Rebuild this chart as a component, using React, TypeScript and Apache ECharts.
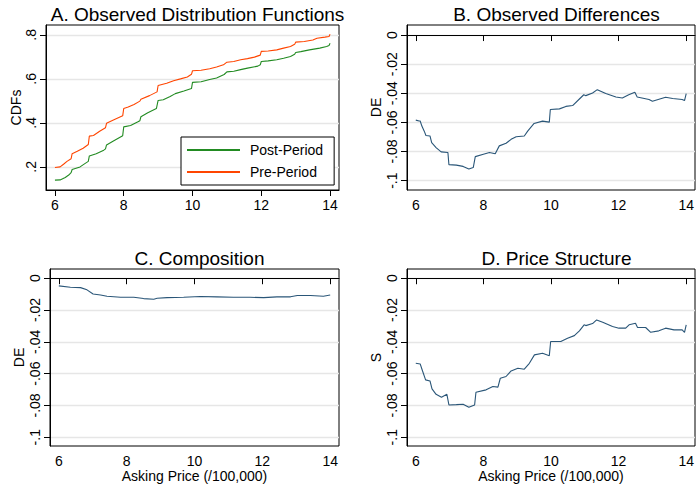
import { useEffect, useRef } from "react";
import * as echarts from "echarts";

// tick values
const priceTicks = [6, 8, 10, 12, 14];
const cdfTicks = [0.2, 0.4, 0.6, 0.8];
const diffTicks = [0, -0.02, -0.04, -0.06, -0.08, -0.1];

const titles = [
  "A. Observed Distribution Functions",
  "B. Observed Differences",
  "C. Composition",
  "D. Price Structure",
];

// A: CDFs (asking price /100,000, share)
const postPeriod = [
  [6.0, 0.14], [6.15, 0.141], [6.3, 0.152], [6.4, 0.163], [6.47, 0.174], [6.5, 0.188],
  [6.73, 0.2], [6.87, 0.215], [6.97, 0.225], [7.0, 0.25], [7.2, 0.26], [7.42, 0.276],
  [7.47, 0.282], [7.5, 0.3], [7.7, 0.318], [7.97, 0.342], [8.0, 0.382], [8.2, 0.388],
  [8.4, 0.404], [8.47, 0.41], [8.5, 0.428], [8.7, 0.446], [8.95, 0.465], [9.0, 0.502],
  [9.15, 0.505], [9.35, 0.52], [9.5, 0.533], [9.75, 0.545], [9.97, 0.556], [10.0, 0.584],
  [10.25, 0.587], [10.5, 0.597], [10.7, 0.604], [10.92, 0.62], [11.0, 0.632], [11.2, 0.635],
  [11.4, 0.642], [11.6, 0.649], [11.9, 0.658], [11.97, 0.664], [12.0, 0.679], [12.2, 0.682],
  [12.45, 0.687], [12.65, 0.694], [12.85, 0.702], [12.97, 0.712], [13.0, 0.72], [13.15, 0.724],
  [13.4, 0.732], [13.7, 0.74], [13.9, 0.747], [13.97, 0.752], [14.0, 0.762],
];

const prePeriod = [
  [6.0, 0.197], [6.15, 0.2], [6.25, 0.212], [6.35, 0.225], [6.47, 0.237], [6.5, 0.26],
  [6.65, 0.271], [6.82, 0.285], [6.97, 0.302], [7.0, 0.34], [7.12, 0.343], [7.3, 0.362],
  [7.47, 0.378], [7.5, 0.398], [7.7, 0.413], [7.97, 0.432], [8.0, 0.465], [8.13, 0.472],
  [8.3, 0.484], [8.47, 0.499], [8.5, 0.508], [8.75, 0.524], [8.97, 0.541], [9.0, 0.57],
  [9.25, 0.58], [9.45, 0.592], [9.65, 0.6], [9.85, 0.609], [9.97, 0.621], [10.0, 0.637],
  [10.25, 0.639], [10.5, 0.646], [10.7, 0.654], [10.9, 0.664], [11.0, 0.676], [11.2, 0.679],
  [11.4, 0.687], [11.6, 0.692], [11.8, 0.699], [11.97, 0.708], [12.0, 0.725], [12.2, 0.727],
  [12.45, 0.732], [12.65, 0.74], [12.85, 0.747], [12.97, 0.757], [13.0, 0.767], [13.25, 0.77],
  [13.5, 0.777], [13.62, 0.785], [13.85, 0.79], [13.97, 0.793], [14.0, 0.803],
];

// B: observed differences
const observedDiff = [
  [6.0, -0.0584], [6.1, -0.059], [6.13, -0.059], [6.18, -0.0625], [6.25, -0.066], [6.3, -0.069],
  [6.42, -0.0693], [6.47, -0.0739], [6.6, -0.0773], [6.75, -0.0802], [6.95, -0.0807], [6.98, -0.089],
  [7.2, -0.0893], [7.4, -0.0902], [7.57, -0.092], [7.7, -0.091], [7.76, -0.0835], [8.0, -0.0818],
  [8.18, -0.0807], [8.35, -0.0815], [8.47, -0.0761], [8.67, -0.0743], [8.82, -0.0716], [8.97, -0.0698],
  [9.21, -0.0693], [9.31, -0.066], [9.5, -0.0607], [9.75, -0.0591], [9.95, -0.0598], [9.98, -0.0511],
  [10.25, -0.0507], [10.44, -0.049], [10.64, -0.0484], [10.84, -0.0439], [10.97, -0.041], [11.03, -0.0416],
  [11.23, -0.0398], [11.37, -0.0375], [11.62, -0.0402], [11.92, -0.0425], [12.11, -0.0432], [12.3, -0.041],
  [12.48, -0.0393], [12.55, -0.0425], [12.9, -0.0443], [13.0, -0.0455], [13.39, -0.0427], [13.6, -0.0436],
  [13.88, -0.0443], [13.95, -0.045], [14.0, -0.0402],
];

// C: composition effect
const composition = [
  [6.0, -0.0048], [6.34, -0.0057], [6.64, -0.0059], [6.83, -0.0073], [7.01, -0.0099], [7.23, -0.0105],
  [7.42, -0.0113], [7.82, -0.012], [8.21, -0.012], [8.5, -0.0128], [8.8, -0.0132], [8.9, -0.0126],
  [9.19, -0.0122], [9.68, -0.012], [10.17, -0.0115], [10.66, -0.0117], [11.15, -0.012], [11.64, -0.012],
  [12.04, -0.0122], [12.43, -0.0117], [12.83, -0.0117], [13.03, -0.0109], [13.42, -0.0109], [13.8, -0.0113],
  [14.0, -0.0105],
];

// D: price structure effect
const priceStructure = [
  [6.0, -0.0535], [6.13, -0.0539], [6.19, -0.0577], [6.29, -0.0639], [6.42, -0.0646], [6.48, -0.0696],
  [6.6, -0.073], [6.76, -0.0748], [6.92, -0.073], [6.98, -0.0797], [7.2, -0.0795], [7.4, -0.0792],
  [7.57, -0.0811], [7.74, -0.0797], [7.78, -0.0717], [8.08, -0.0702], [8.28, -0.0681], [8.43, -0.0685],
  [8.5, -0.0629], [8.67, -0.0618], [8.82, -0.0583], [9.02, -0.0566], [9.21, -0.0572], [9.36, -0.0535],
  [9.51, -0.0482], [9.75, -0.0472], [9.95, -0.0487], [9.99, -0.0398], [10.29, -0.0398], [10.49, -0.0377],
  [10.69, -0.0361], [10.84, -0.0331], [10.98, -0.0293], [11.03, -0.0298], [11.23, -0.0285], [11.35, -0.0262],
  [11.53, -0.0277], [11.82, -0.0304], [12.01, -0.0314], [12.21, -0.0314], [12.31, -0.0293], [12.5, -0.0283],
  [12.56, -0.031], [12.8, -0.031], [12.95, -0.034], [13.19, -0.0331], [13.39, -0.0314], [13.64, -0.0325],
  [13.88, -0.0325], [13.95, -0.034], [14.0, -0.0293],
];

const FONT = '"Liberation Sans", Arial, Helvetica, sans-serif';
const NAVY = "#2a5678";

// stata style: .8, -.02, 0
const stataFmt = (v: number) => {
  const s = String(+v.toFixed(4));
  return s.replace(/^(-?)0\./, "$1.");
};

const grids = [
  { left: 46, top: 25, width: 293, height: 165 },
  { left: 407, top: 25, width: 289, height: 165 },
  { left: 50, top: 269, width: 289, height: 177 },
  { left: 407, top: 269, width: 289, height: 177 },
];

const yRanges = [
  [0.095, 0.845],
  [-0.1064, 0.0069],
  [-0.1055, 0.0058],
  [-0.1055, 0.0058],
];

const yNames = ["CDFs", "DE", "DE", "S"];
const yGaps = [21, 24, 24, 24];

export default function App() {
  const chartRef = useRef<HTMLDivElement>(null);

  useEffect(() => {
    if (!chartRef.current) return;
    const chart = echarts.init(chartRef.current, undefined, { renderer: "svg" });

    const xAxis = grids.map((_, i) => ({
      type: "value",
      gridIndex: i,
      min: 5.74,
      max: 14.26,
      splitNumber: 4,
      name: i >= 2 ? "Asking Price (/100,000)" : "",
      nameLocation: "middle",
      nameGap: 23,
      nameTextStyle: { fontSize: 14, color: "#000", fontFamily: FONT },
      axisLine: { show: true, lineStyle: { color: "#000", width: 1 } },
      axisTick: { show: true, length: 6, customValues: priceTicks, lineStyle: { color: "#000" } },
      axisLabel: {
        customValues: priceTicks,
        fontSize: 14,
        color: "#000",
        fontFamily: FONT,
        margin: 8,
      },
      splitLine: { show: false },
    }));

    const yAxis = grids.map((_, i) => {
      const ticks = i === 0 ? cdfTicks : diffTicks;
      return {
        type: "value",
        gridIndex: i,
        min: yRanges[i][0],
        max: yRanges[i][1],
        splitNumber: i === 0 ? 4 : 5,
        name: yNames[i],
        nameLocation: "middle",
        nameGap: yGaps[i],
        nameTextStyle: { fontSize: 14, color: "#000", fontFamily: FONT },
        axisLine: { show: true, lineStyle: { color: "#000", width: 1 } },
        axisTick: { show: true, length: 6, customValues: ticks, lineStyle: { color: "#000" } },
        axisLabel: {
          customValues: ticks,
          rotate: 90,
          fontSize: 14,
          color: "#000",
          fontFamily: FONT,
          margin: 8,
          formatter: stataFmt,
        },
        splitLine: { show: true, lineStyle: { color: "#e6e6e6", width: 1.4 } },
      };
    });

    const line = (name: string, data: number[][], idx: number, color: string) => ({
      name,
      type: "line",
      xAxisIndex: idx,
      yAxisIndex: idx,
      data,
      symbol: "none",
      showSymbol: false,
      lineStyle: { color, width: 1.1 },
      itemStyle: { color },
    });

    chart.setOption({
      animation: false,
      backgroundColor: "#fff",
      textStyle: { fontFamily: FONT },
      title: titles.map((t, i) => ({
        text: t,
        left: grids[i].left + grids[i].width / 2,
        top: i < 2 ? 0 : 244,
        textAlign: "center",
        textStyle: { fontSize: 19, fontWeight: "normal", color: "#000", fontFamily: FONT },
      })),
      grid: grids.map((g) => ({
        ...g,
        show: true,
        borderColor: "#000",
        borderWidth: 1,
        backgroundColor: "#fff",
      })),
      legend: {
        data: ["Post-Period", "Pre-Period"],
        orient: "vertical",
        left: 181,
        top: 137,
        padding: [6, 11, 6, 6],
        itemWidth: 53,
        itemHeight: 2,
        itemGap: 8,
        icon: "rect",
        selectedMode: false,
        backgroundColor: "#fff",
        borderColor: "#000",
        borderWidth: 1,
        textStyle: { fontSize: 14, color: "#000", fontFamily: FONT, padding: [0, 0, 0, 5] },
      },
      xAxis,
      yAxis,
      series: [
        line("Post-Period", postPeriod, 0, "#228b22"),
        line("Pre-Period", prePeriod, 0, "#ff4500"),
        line("Observed Differences", observedDiff, 1, NAVY),
        line("Composition", composition, 2, NAVY),
        line("Price Structure", priceStructure, 3, NAVY),
      ],
    });

    return () => {
      chart.dispose();
    };
  }, []);

  return (
    <div
      ref={chartRef}
      style={{ position: "absolute", left: 0, top: 0, width: 697, height: 490, background: "#fff" }}
    />
  );
}
